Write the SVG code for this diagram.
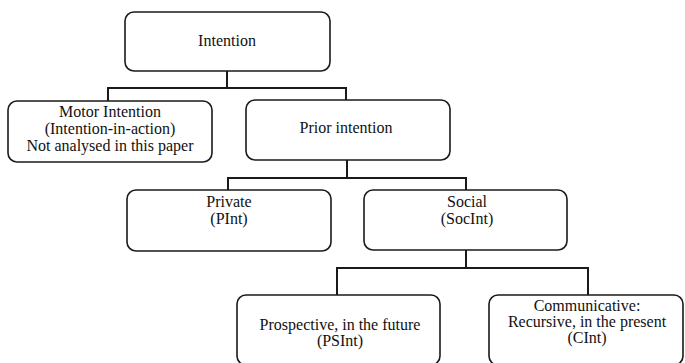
<svg xmlns="http://www.w3.org/2000/svg" width="685" height="363" viewBox="0 0 685 363">
<style>
.box{fill:#fff;stroke:#1a1a1a;stroke-width:1.6}
.conn{fill:none;stroke:#1a1a1a;stroke-width:2}
text{font-family:"Liberation Serif","Times New Roman",serif;font-size:16px;fill:#111;text-anchor:middle}
</style>
<rect width="685" height="363" fill="#fff"/>
<g id="connectors">
<path class="conn" d="M227 71 V88 M108 101 V88 H346 V100"/>
<path class="conn" d="M347 160 V178 M228 190 V178 H466 V190"/>
<path class="conn" d="M466 250 V268 M337 295 V268 H588 V295"/>
</g>
<g id="intention">
<rect class="box" x="125" y="12" width="205" height="59" rx="9"/>
<text x="227" y="46">Intention</text>
</g>
<g id="motor">
<rect class="box" x="8" y="101" width="204" height="61" rx="9"/>
<text x="110" y="117">Motor Intention</text>
<text x="110" y="134">(Intention-in-action)</text>
<text x="110" y="151">Not analysed in this paper</text>
</g>
<g id="prior">
<rect class="box" x="246" y="100" width="204" height="60" rx="9"/>
<text x="346" y="133">Prior intention</text>
</g>
<g id="private">
<rect class="box" x="127" y="190" width="204" height="61" rx="9"/>
<text x="229" y="207">Private</text>
<text x="229" y="224">(PInt)</text>
</g>
<g id="social">
<rect class="box" x="364" y="190" width="203" height="60" rx="9"/>
<text x="467" y="207">Social</text>
<text x="467" y="224">(SocInt)</text>
</g>
<g id="prospective">
<rect class="box" x="237" y="295" width="203" height="70" rx="9"/>
<text x="340" y="330">Prospective, in the future</text>
<text x="340" y="346">(PSInt)</text>
</g>
<g id="communicative">
<rect class="box" x="489" y="295" width="194" height="70" rx="9"/>
<text x="587" y="311">Communicative:</text>
<text x="587" y="327">Recursive, in the present</text>
<text x="587" y="343">(CInt)</text>
</g>
</svg>
